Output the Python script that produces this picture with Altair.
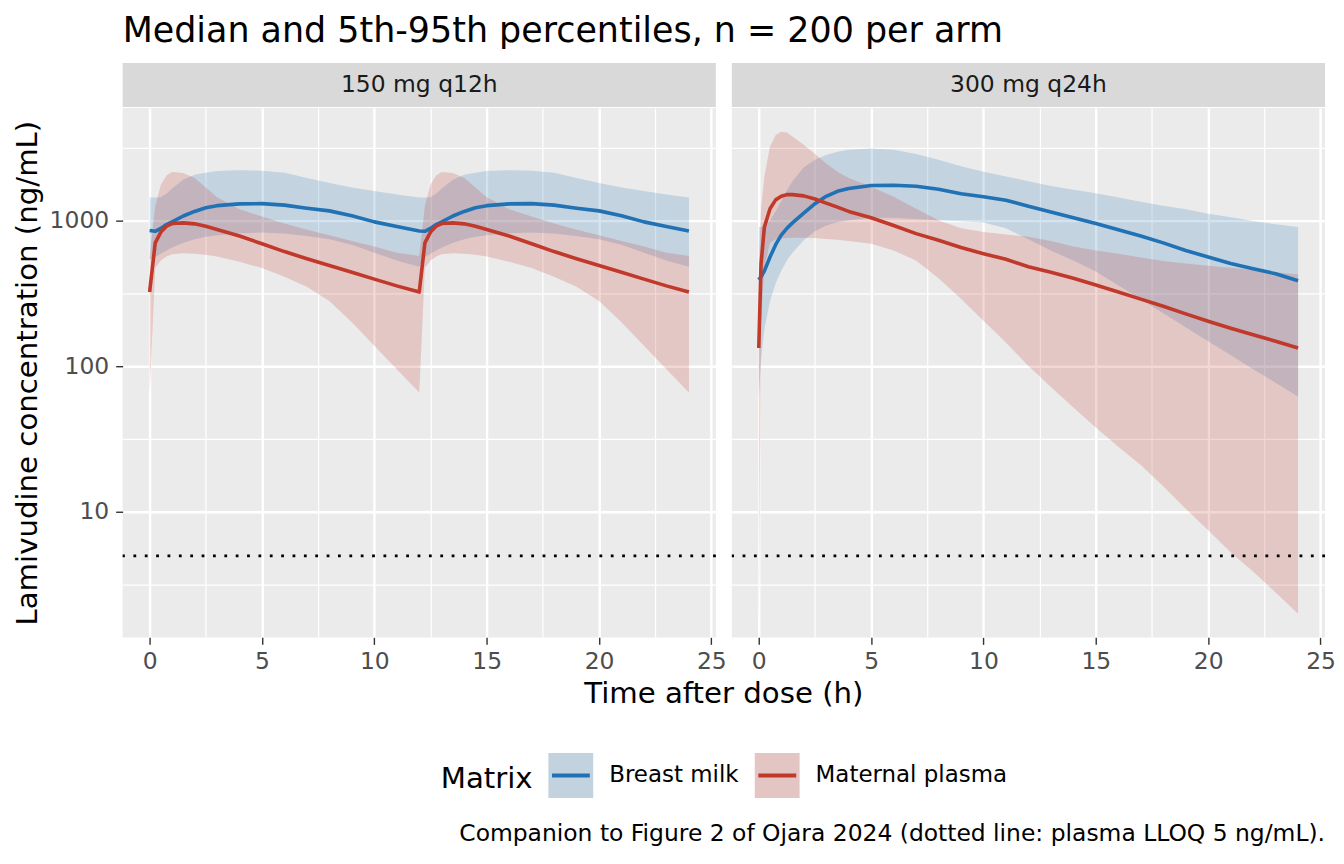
import altair as alt
import pandas as pd

TITLE = "Median and 5th-95th percentiles, n = 200 per arm"
CAPTION = "Companion to Figure 2 of Ojara 2024 (dotted line: plasma LLOQ 5 ng/mL)."
X_TITLE = "Time after dose (h)"
Y_TITLE = "Lamivudine concentration (ng/mL)"
PANELS = ["150 mg q12h", "300 mg q24h"]
MATRICES = ["Breast milk", "Maternal plasma"]
LLOQ = [5]

# ---- 150 mg q12h ----
T_Q12 = [0, 0.25, 0.5, 0.75, 1, 1.5, 2, 2.5, 3, 4, 5, 6, 7, 8, 9, 10, 11, 12,
         12.25, 12.5, 12.75, 13, 13.5, 14, 14.5, 15, 16, 17, 18, 19, 20, 21, 22, 23, 24]
BM_MED_Q12 = [850, 840, 880, 935, 975, 1070, 1150, 1220, 1260, 1295, 1300, 1270, 1210, 1160, 1075, 975, 905, 845,
              840, 880, 935, 975, 1070, 1150, 1220, 1260, 1295, 1300, 1270, 1210, 1160, 1075, 975, 905, 845]
BM_LO_Q12 = [540, 560, 590, 620, 650, 700, 740, 770, 790, 815, 825, 810, 780, 740, 680, 600, 530, 480,
             560, 590, 620, 650, 700, 740, 770, 790, 815, 825, 810, 780, 740, 680, 600, 530, 480]
BM_HI_Q12 = [1430, 1430, 1440, 1520, 1650, 1900, 2050, 2120, 2180, 2200, 2190, 2120, 1950, 1800, 1680, 1590, 1500, 1430,
             1430, 1440, 1520, 1650, 1900, 2050, 2120, 2180, 2200, 2190, 2120, 1950, 1800, 1680, 1590, 1500, 1430]
PL_MED_Q12 = [322, 700, 830, 910, 950, 960, 945, 910, 865, 780, 690, 610, 545, 490, 440, 395, 355, 322,
              700, 830, 910, 950, 960, 945, 910, 865, 780, 690, 610, 545, 490, 440, 395, 355, 322]
PL_LO_Q12 = [65, 470, 530, 565, 585, 595, 590, 580, 565, 520, 470, 410, 350, 280, 200, 138, 95, 66,
             470, 530, 565, 585, 595, 590, 580, 565, 520, 470, 410, 350, 280, 200, 138, 95, 66]
PL_HI_Q12 = [560, 1250, 1750, 2030, 2140, 2110, 1950, 1680, 1440, 1190, 1060, 950, 860, 790, 720, 660, 600, 570,
             1250, 1750, 2030, 2140, 2110, 1950, 1680, 1440, 1190, 1060, 950, 860, 790, 720, 660, 600, 570]

# ---- 300 mg q24h ----
T_Q24 = [0, 0.1, 0.25, 0.5, 0.75, 1, 1.25, 1.5, 2, 2.5, 3, 3.5, 4, 5, 6, 7, 8, 9, 10, 11, 12,
         13, 14, 15, 16, 17, 18, 19, 20, 21, 22, 23, 24]
BM_MED_Q24 = [390, 410, 450, 560, 680, 790, 880, 960, 1120, 1300, 1460, 1580, 1650, 1730, 1740, 1710, 1630, 1520,
              1450, 1370, 1250, 1140, 1040, 950, 860, 780, 700, 620, 560, 505, 465, 430, 385]
BM_LO_Q24 = [62, 110, 180, 280, 370, 450, 530, 600, 730, 840, 920, 970, 1000, 1040, 1040, 1020, 1000, 985,
             965, 880, 740, 620, 530, 445, 358, 287, 230, 185, 148, 119, 95, 77, 62]
BM_HI_Q24 = [900, 900, 920, 1000, 1150, 1350, 1600, 1850, 2300, 2600, 2800, 2950, 3050, 3100, 3050, 2850, 2600, 2350,
             2150, 2000, 1850, 1720, 1620, 1530, 1430, 1340, 1260, 1190, 1110, 1050, 990, 940, 900]
PL_MED_Q24 = [133, 500, 900, 1200, 1380, 1460, 1500, 1500, 1470, 1400, 1310, 1230, 1150, 1040, 920, 810, 730, 650,
              590, 540, 480, 440, 400, 360, 322, 288, 257, 228, 203, 182, 164, 148, 133]
PL_LO_Q24 = [1.5, 200, 480, 700, 740, 750, 755, 758, 760, 755, 745, 735, 720, 690, 620, 530, 400, 290,
             205, 145, 100, 72, 52, 38, 28, 21, 15, 10.5, 7.5, 5.3, 3.9, 2.8, 2.0]
PL_HI_Q24 = [430, 1200, 2000, 3200, 3850, 4050, 4000, 3750, 3300, 2850, 2450, 2150, 1950, 1700, 1450, 1200, 1000, 880,
             830, 800, 770, 720, 660, 620, 590, 555, 525, 505, 488, 472, 456, 440, 425]

LINE_COLORS = ["#2171B5", "#C0392B"]
KEY_FILLS = ["#C2D3DF", "#E3C5C4"]
FONT = "DejaVu Sans"


def build(panel, times, series):
    rows = []
    for matrix, (med, lo, hi) in zip(MATRICES, series):
        for t, m, l, h in zip(times, med, lo, hi):
            rows.append({"panel": panel, "matrix": matrix, "time": t, "med": m, "lo": l, "hi": h})
    return pd.DataFrame(rows)


df_left = build(PANELS[0], T_Q12, [(BM_MED_Q12, BM_LO_Q12, BM_HI_Q12), (PL_MED_Q12, PL_LO_Q12, PL_HI_Q12)])
df_right = build(PANELS[1], T_Q24, [(BM_MED_Q24, BM_LO_Q24, BM_HI_Q24), (PL_MED_Q24, PL_LO_Q24, PL_HI_Q24)])

W, H = 595, 531
X_VALS = [0, 2.5, 5, 7.5, 10, 12.5, 15, 17.5, 20, 22.5, 25]
Y_VALS = [3.1623, 10, 31.623, 100, 316.23, 1000, 3162.3]
X_MAJOR = "datum.value % 5 === 0"
Y_MAJOR = "datum.value === 10 || datum.value === 100 || datum.value === 1000"

FS_TITLE, FS_AXT, FS_TXT = 35, 29.3, 23.5
LEG_X, LEG_Y = 319, 645
# legend key: filled square with a centred line (the dash hides the square's outline)
KEY_PATH = "M-0.84,0H1V-1H-1V1H1V0Z"

xs = alt.Scale(domain=[-1.2, 25.2], nice=False, zero=False)
ys = alt.Scale(type="log", domain=[1.38, 5890], nice=False)

x_axis = alt.Axis(
    values=X_VALS, title=None, grid=True, gridColor="white",
    gridWidth={"condition": {"test": X_MAJOR, "value": 2.4}, "value": 1.2},
    tickColor={"condition": {"test": X_MAJOR, "value": "#333333"}, "value": "rgba(0,0,0,0)"},
    tickSize=7, tickWidth=1.4, domain=False,
    labelExpr=X_MAJOR + " ? format(datum.value, 'd') : ''",
    labelFontSize=FS_TXT, labelColor="#4D4D4D", labelFont=FONT, labelPadding=5,
    labelOverlap=False, labelFlush=False,
)


def y_axis(show):
    common = dict(
        values=Y_VALS, grid=True, gridColor="white",
        gridWidth={"condition": {"test": Y_MAJOR, "value": 2.4}, "value": 1.2},
        domain=False,
    )
    if show:
        return alt.Axis(
            title=Y_TITLE, titleFontSize=FS_AXT, titleFontWeight="normal", titleColor="black",
            titleFont=FONT, titlePadding=7,
            tickColor={"condition": {"test": Y_MAJOR, "value": "#333333"}, "value": "rgba(0,0,0,0)"},
            tickSize=7, tickWidth=1.4,
            labelExpr=Y_MAJOR + " ? format(datum.value, 'd') : ''",
            labelFontSize=FS_TXT, labelColor="#4D4D4D", labelFont=FONT, labelPadding=7,
            labelOverlap=False, labelFlush=False,
            **common,
        )
    return alt.Axis(title=None, labels=False, ticks=False, **common)


def make_legend():
    return alt.Legend(
        title="Matrix", orient="none", legendX=LEG_X, legendY=LEG_Y, direction="horizontal",
        titleOrient="left", titleFontSize=FS_AXT, titleFontWeight="normal", titleFont=FONT,
        titleColor="black", titlePadding=13, labelFontSize=23, labelFont=FONT,
        labelColor="black", labelOffset=14, columnPadding=8, labelLimit=600,
        symbolSize=2025, symbolType=KEY_PATH, symbolDash=[38, 3000], symbolStrokeWidth=4,
    )


def panel(df, name, first):
    yax = y_axis(first)
    X = alt.X("time:Q", scale=xs, axis=x_axis)
    area = alt.Chart(df).mark_area(opacity=0.2, clip=True).encode(
        x=X,
        y=alt.Y("lo:Q", scale=ys, axis=yax),
        y2="hi:Q",
        color=alt.Color(
            "matrix:N",
            scale=alt.Scale(domain=MATRICES[::-1], range=LINE_COLORS[::-1]),
            legend=None,
        ),
    )
    line = alt.Chart(df).mark_line(strokeWidth=3.6, strokeJoin="round", clip=True).encode(
        x=X,
        y=alt.Y("med:Q", scale=ys, axis=yax),
        stroke=alt.Stroke("matrix:N", scale=alt.Scale(domain=MATRICES, range=LINE_COLORS),
                          legend=make_legend()),
    )
    rule = alt.Chart(pd.DataFrame({"lloq": LLOQ})).mark_rule(
        color="black", strokeWidth=2.8, strokeDash=[2.8, 8.6]
    ).encode(y=alt.Y("lloq:Q", scale=ys, axis=yax))
    strip_df = pd.DataFrame({"label": [name]})
    strip = alt.Chart(strip_df).mark_rect(color="#D9D9D9").encode(
        x=alt.value(0), x2=alt.value(W), y=alt.value(-45), y2=alt.value(-1)
    )
    strip_text = alt.Chart(strip_df).mark_text(
        fontSize=FS_TXT, font=FONT, color="#1A1A1A", baseline="middle", align="center"
    ).encode(x=alt.value(W / 2), y=alt.value(-23), text="label:N")
    if first:
        dummy = alt.Chart(df).mark_square(size=0, opacity=1).encode(
            x=X,
            y=alt.Y("med:Q", scale=ys, axis=yax),
            fill=alt.Fill("matrix:N", scale=alt.Scale(domain=MATRICES, range=KEY_FILLS),
                          legend=make_legend()),
        )
        xt = alt.Chart(pd.DataFrame({"t": [X_TITLE]})).mark_text(
            fontSize=FS_AXT, font=FONT, color="black", baseline="middle", align="center"
        ).encode(x=alt.value(W + 8), y=alt.value(H + 57), text="t:N")
        layers = [area, dummy, line, rule, strip, strip_text, xt]
    else:
        cap = alt.Chart(pd.DataFrame({"c": [CAPTION]})).mark_text(
            fontSize=FS_TXT, font=FONT, color="black", baseline="middle", align="right"
        ).encode(x=alt.value(W), y=alt.value(H + 197), text="c:N")
        layers = [area, line, rule, strip, strip_text, cap]
    return alt.layer(*layers).properties(width=W, height=H)


left = panel(df_left, PANELS[0], True)
right = panel(df_right, PANELS[1], False)

chart = alt.hconcat(left, right, spacing=16, bounds="flush").properties(
    title=alt.TitleParams(
        TITLE, anchor="start", fontSize=FS_TITLE, font=FONT, fontWeight="normal", color="black",
        offset=14, frame="group",
    ),
    padding={"left": 5, "top": 5, "right": 0, "bottom": 5},
).configure(font=FONT).configure_view(fill="#EBEBEB", stroke=None)

chart.save("out.html", embed_options={"renderer": "svg", "actions": False})
